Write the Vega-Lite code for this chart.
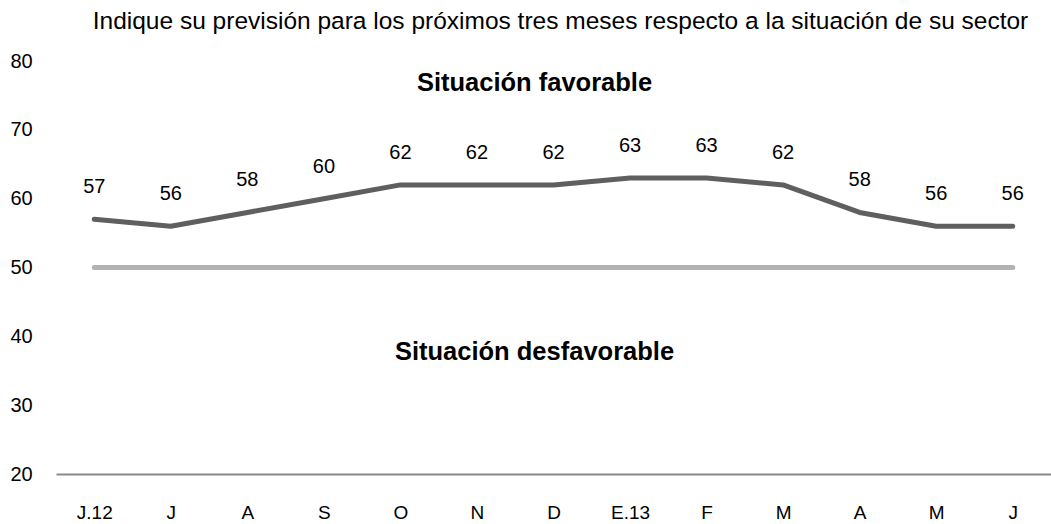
{
  "$schema": "https://vega.github.io/schema/vega-lite/v6.json",
  "autosize": "none",
  "width": 995,
  "height": 413,
  "padding": {"left": 56, "top": 61, "right": 0, "bottom": 50},
  "background": "white",
  "title": {
    "text": "Indique su previsión para los próximos tres meses respecto a la situación de su sector",
    "anchor": "middle",
    "frame": "group",
    "font": "Liberation Sans",
    "fontSize": 24.5,
    "fontWeight": "normal",
    "color": "#000000",
    "offset": 17,
    "dx": 7
  },
  "config": {
    "view": {"stroke": null},
    "font": "Liberation Sans"
  },
  "data": {
    "values": [
      {"k": 0, "mes": "J.12", "v": 57, "ref": 50},
      {"k": 1, "mes": "J", "v": 56, "ref": 50},
      {"k": 2, "mes": "A", "v": 58, "ref": 50},
      {"k": 3, "mes": "S", "v": 60, "ref": 50},
      {"k": 4, "mes": "O", "v": 62, "ref": 50},
      {"k": 5, "mes": "N", "v": 62, "ref": 50},
      {"k": 6, "mes": "D", "v": 62, "ref": 50},
      {"k": 7, "mes": "E.13", "v": 63, "ref": 50},
      {"k": 8, "mes": "F", "v": 63, "ref": 50},
      {"k": 9, "mes": "M", "v": 62, "ref": 50},
      {"k": 10, "mes": "A", "v": 58, "ref": 50},
      {"k": 11, "mes": "M", "v": 56, "ref": 50},
      {"k": 12, "mes": "J", "v": 56, "ref": 50}
    ]
  },
  "encoding": {
    "x": {
      "field": "k",
      "type": "ordinal",
      "sort": null,
      "scale": {"type": "point", "padding": 0.5},
      "axis": {
        "title": null,
        "labelAngle": 0,
        "labelExpr": "['J.12','J','A','S','O','N','D','E.13','F','M','A','M','J'][datum.value]",
        "labelFont": "Liberation Sans",
        "labelFontSize": 19,
        "labelColor": "#000000",
        "labelPadding": 29,
        "ticks": false,
        "tickSize": 0,
        "domainColor": "#898989",
        "domainWidth": 2,
        "grid": false
      }
    }
  },
  "layer": [
    {
      "mark": {"type": "line", "color": "#b2b2b2", "strokeWidth": 5, "strokeCap": "round"},
      "encoding": {
        "y": {
          "field": "ref",
          "type": "quantitative",
          "scale": {"domain": [20, 80], "nice": false, "zero": false},
          "axis": {
            "title": null,
            "values": [20, 30, 40, 50, 60, 70, 80],
            "domain": false,
            "ticks": false,
            "tickSize": 0,
            "grid": false,
            "labelAlign": "left",
            "labelPadding": 46,
            "labelFont": "Liberation Sans",
            "labelFontSize": 20,
            "labelColor": "#000000"
          }
        }
      }
    },
    {
      "mark": {"type": "line", "color": "#5f5f5f", "strokeWidth": 5, "strokeCap": "round", "strokeJoin": "round"},
      "encoding": {"y": {"field": "v", "type": "quantitative"}}
    },
    {
      "mark": {"type": "text", "dy": -32, "fontSize": 20, "color": "#000000", "baseline": "middle", "align": "center"},
      "encoding": {
        "y": {"field": "v", "type": "quantitative"},
        "text": {"field": "v", "type": "quantitative"}
      }
    },
    {
      "data": {"values": [
        {"k": 6, "y": 76.8, "t": "Situación favorable"},
        {"k": 6, "y": 37.7, "t": "Situación desfavorable"}
      ]},
      "mark": {"type": "text", "fontSize": 25.5, "fontWeight": "bold", "color": "#000000", "baseline": "middle", "align": "center", "dx": -19},
      "encoding": {
        "x": {"field": "k", "type": "ordinal"},
        "y": {"field": "y", "type": "quantitative"},
        "text": {"field": "t"}
      }
    }
  ]
}
